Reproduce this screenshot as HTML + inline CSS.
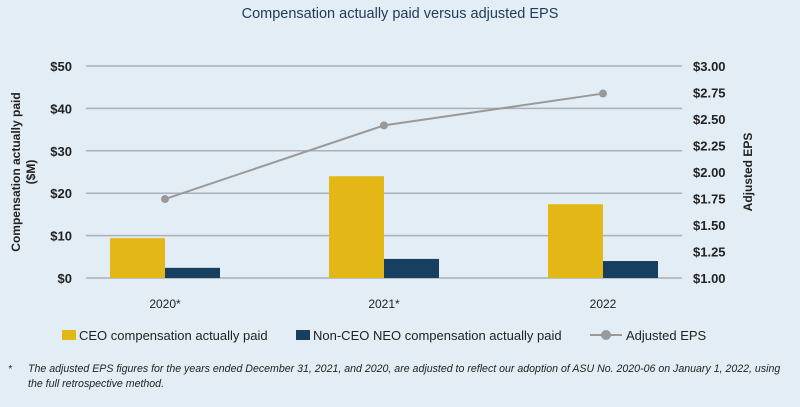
<!DOCTYPE html>
<html><head><meta charset="utf-8"><style>
body{margin:0;width:800px;height:407px;background:#e3edf5;font-family:"Liberation Sans",sans-serif;overflow:hidden}
svg{display:block}
</style></head><body>
<svg width="800" height="407" id="c">
<text x="400" y="18" text-anchor="middle" font-size="14.5" fill="#1f3a5a">Compensation actually paid versus adjusted EPS</text>
<text transform="translate(20,172) rotate(-90)" text-anchor="middle" font-size="12" font-weight="bold" fill="#222"><tspan x="0" dy="0">Compensation actually paid</tspan><tspan x="0" dy="15">($M)</tspan></text>
<text transform="translate(752,172) rotate(-90)" text-anchor="middle" font-size="12" font-weight="bold" fill="#222">Adjusted EPS</text>
<g id="grid"></g><g id="bars"></g><g id="line"></g><g id="labels"></g>
<g>
<rect x="62" y="330" width="14" height="10" fill="#e3b716"/>
<text x="79" y="340" font-size="13" fill="#222">CEO compensation actually paid</text>
<rect x="296" y="330" width="14" height="10" fill="#173f5f"/>
<text x="313" y="340" font-size="13" fill="#222">Non-CEO NEO compensation actually paid</text>
<line x1="590" y1="335" x2="622" y2="335" stroke="#999" stroke-width="2"/>
<circle cx="606" cy="335" r="5" fill="#999"/>
<text x="626" y="340" font-size="13" fill="#222">Adjusted EPS</text>
</g>
<text x="8" y="372" font-size="10" font-style="italic" fill="#222">*</text>
<text font-size="10.6" font-style="italic" fill="#222"><tspan x="28" y="372">The adjusted EPS figures for the years ended December 31, 2021, and 2020, are adjusted to reflect our adoption of ASU No. 2020-06 on January 1, 2022, using</tspan><tspan x="28" y="387">the full retrospective method.</tspan></text>
</svg>
<script>
const categories=["2020*","2021*","2022"];
const ceoValues=[9.4,24,17.4];
const neoValues=[2.4,4.5,4.0];
const epsValues=[1.745,2.44,2.74];
const leftTicks=["$0","$10","$20","$30","$40","$50"];
const rightTicks=["$1.00","$1.25","$1.50","$1.75","$2.00","$2.25","$2.50","$2.75","$3.00"];
const NS="http://www.w3.org/2000/svg";
const y0=278,y1=66;
const yL=v=>y0-(v/50)*(y0-y1);
const yR=v=>y0-((v-1)/2)*(y0-y1);
const xC=i=>165+i*219;
function mk(t,a,p){const e=document.createElementNS(NS,t);for(const k in a)e.setAttribute(k,a[k]);document.getElementById(p).appendChild(e);return e;}
leftTicks.forEach((t,i)=>{const y=yL(i*10);
 const l=mk("line",{x1:86,x2:682,y1:y,y2:y,stroke:"#a9b0b8","stroke-width":1.5},"grid");
 
 
 const tx=mk("text",{x:72,y:y+5,"text-anchor":"end","font-size":13,"font-weight":"bold",fill:"#222"},"grid");tx.textContent=t;
 
 });
rightTicks.forEach((t,i)=>{const y=yR(1+i*0.25);
 const tx=mk("text",{x:693,y:y+5,"font-size":13,"font-weight":"bold",fill:"#222"},"grid");tx.textContent=t;
 
 });
categories.forEach((c,i)=>{const x=xC(i);
 const b1=mk("rect",{x:x-55,y:yL(ceoValues[i]),width:55,height:y0-yL(ceoValues[i]),fill:"#e3b716"},"bars");
 
 
 const b2=mk("rect",{x:x,y:yL(neoValues[i]),width:55,height:y0-yL(neoValues[i]),fill:"#173f5f"},"bars");
 
 
 const tx=mk("text",{x:x,y:308,"text-anchor":"middle","font-size":12,fill:"#222"},"labels");tx.textContent=c;
 
 });
const pl=mk("polyline",{points:epsValues.map((v,i)=>xC(i)+","+yR(v)).join(" "),fill:"none",stroke:"#999","stroke-width":2},"line");


epsValues.forEach((v,i)=>{const p=mk("circle",{cx:xC(i),cy:yR(v),r:4,fill:"#999"},"line");
 
 });
</script>
</body></html>
